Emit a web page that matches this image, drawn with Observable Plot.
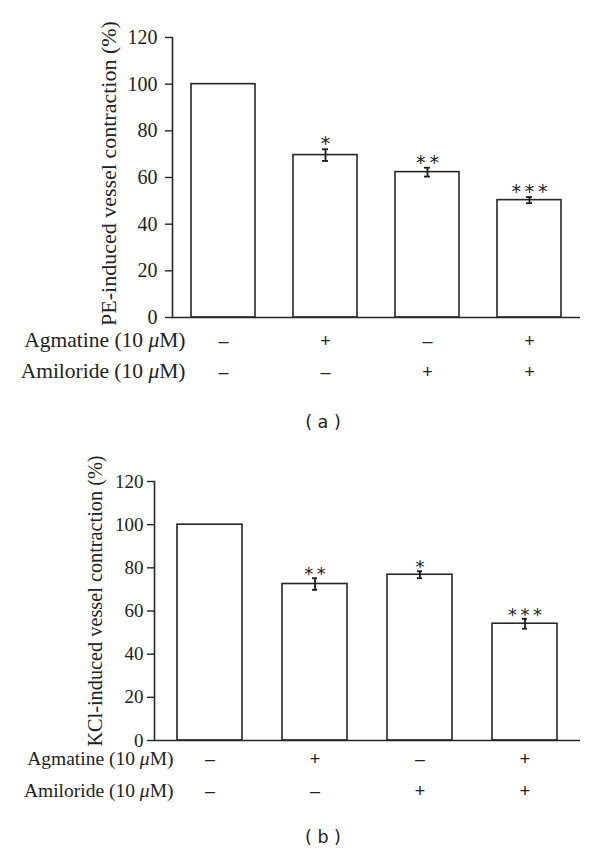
<!DOCTYPE html>
<html><head><meta charset="utf-8">
<script src="https://cdn.jsdelivr.net/npm/d3@7"></script>
<script src="https://cdn.jsdelivr.net/npm/@observablehq/plot@0.6"></script>
<style>
body{margin:0;background:#fff}
#wrap{position:relative;width:600px;height:853px;background:#fff;overflow:hidden}
.panel{position:absolute;left:0}
.cap{position:absolute;left:290px;width:66px;text-align:center;font-family:"DejaVu Sans";font-size:17.5px;line-height:20px;color:#222;white-space:pre}
</style></head><body><div id="wrap"></div>
<script>
// ---- data ----
const groups = ["Control", "Agmatine", "Amiloride", "Agmatine + Amiloride"];
const agmatineSigns = ["–", "+", "–", "+"];
const amilorideSigns = ["–", "–", "+", "+"];
const rowLabels = ["Agmatine (10 μM)", "Amiloride (10 μM)"];
const yTicks = [0, 20, 40, 60, 80, 100, 120];

const peMean = [100, 69.6, 62.3, 50.3];
const peSem = [0, 2.5, 1.9, 1.3];
const peStars = ["", "*", "**", "***"];

const kclMean = [100, 72.5, 76.8, 54.1];
const kclSem = [0, 2.7, 1.6, 2.3];
const kclStars = ["", "**", "*", "***"];

function makePanel(cfg) {
  const data = groups.map((g, i) => ({
    g, v: cfg.mean[i], e: cfg.sem[i], s: cfg.stars[i],
    agm: agmatineSigns[i], ami: amilorideSigns[i]
  }));
  const err = data.filter(d => d.e > 0);
  const n = groups.length;
  const step = (600 - cfg.ml - cfg.mr) / (n - cfg.pi + 2 * cfg.po);
  const bw = step * (1 - cfg.pi);
  const capInset = (bw - 6) / 2;
  const serif = "Liberation Serif";
  const ink = "#222";
  const svg = Plot.plot({
    width: 600, height: cfg.height,
    marginTop: cfg.mt, marginBottom: cfg.mb, marginLeft: cfg.ml, marginRight: cfg.mr,
    style: {background: "transparent", overflow: "visible", fontFamily: serif, color: ink},
    x: {domain: groups, paddingInner: cfg.pi, paddingOuter: cfg.po, axis: null},
    y: {domain: [0, 120]},
    marks: [
      Plot.barY(data, {x: "g", y: "v", fill: "white", stroke: "#262626", strokeWidth: 1.6}),
      Plot.ruleX(err, {x: "g", y1: d => d.v - d.e, y2: d => d.v + d.e, stroke: "#1a1a1a", strokeWidth: 1.8}),
      Plot.tickY(err, {x: "g", y: d => d.v + d.e, insetLeft: capInset, insetRight: capInset, stroke: "#1a1a1a", strokeWidth: 1.8}),
      Plot.tickY(err, {x: "g", y: d => d.v - d.e, insetLeft: capInset, insetRight: capInset, stroke: "#1a1a1a", strokeWidth: 1.8}),
      Plot.text(data.filter(d => d.s), {x: "g", y: d => d.v + d.e, text: d => d.s.split("").join("\u2009"),
        dy: cfg.starDy, fontFamily: "DejaVu Sans", fontSize: cfg.starSize, fill: ink}),
      Plot.ruleY([0], {stroke: "#262626", strokeWidth: 1.6}),
      Plot.frame({anchor: "left", stroke: "#262626", strokeWidth: 1.6}),
      Plot.axisY({ticks: yTicks, tickSize: 7, tickPadding: cfg.tickPad, label: null,
        fontSize: cfg.fs, fontFamily: serif, stroke: "#262626", strokeWidth: 1.4, fill: ink}),
      Plot.text([cfg.yLabel], {text: d => d, frameAnchor: "left", textAnchor: "middle", rotate: -90,
        dx: cfg.ylDx, dy: cfg.ylDy, fontSize: cfg.ylSize, fontFamily: serif, fill: ink}),
      Plot.text(data, {x: "g", text: "agm", frameAnchor: "bottom", dy: cfg.rowDy[0],
        fontFamily: "Liberation Sans", fontSize: cfg.signSize, fill: ink}),
      Plot.text(data, {x: "g", text: "ami", frameAnchor: "bottom", dy: cfg.rowDy[1],
        fontFamily: "Liberation Sans", fontSize: cfg.signSize, fill: ink}),
      Plot.text([rowLabels[0]], {text: d => d, frameAnchor: "bottom-left", textAnchor: "end",
        dx: cfg.labelDx, dy: cfg.rowDy[0], fontSize: cfg.rowSize, fontFamily: serif, fill: ink}),
      Plot.text([rowLabels[1]], {text: d => d, frameAnchor: "bottom-left", textAnchor: "end",
        dx: cfg.labelDx, dy: cfg.rowDy[1], fontSize: cfg.rowSize, fontFamily: serif, fill: ink})
    ]
  });
  // italicise the μ in the row labels
  svg.querySelectorAll("text").forEach(t => {
    if (t.children.length === 0 && t.textContent.includes("μ")) {
      const parts = t.textContent.split("μ");
      t.textContent = "";
      parts.forEach((p, k) => {
        if (k > 0) {
          const ts = document.createElementNS("http://www.w3.org/2000/svg", "tspan");
          ts.setAttribute("font-style", "italic");
          ts.textContent = "μ";
          t.appendChild(ts);
        }
        t.appendChild(document.createTextNode(p));
      });
    }
  });
  svg.classList.add("panel");
  svg.style.top = cfg.top + "px";
  return svg;
}

const wrap = document.getElementById("wrap");
wrap.appendChild(makePanel({
  top: 0, height: 400, mt: 37, mb: 83, ml: 172, mr: 20, pi: 0.373, po: 0.186,
  mean: peMean, sem: peSem, stars: peStars,
  yLabel: "PE-induced vessel contraction (%)",
  fs: 20, ylSize: 22, rowSize: 21.5, tickPad: 8, ylDx: -64, ylDy: -4, rowDy: [29, 60], labelDx: 13,
  signSize: 18, starSize: 19, starDy: -5
}));
wrap.appendChild(makePanel({
  top: 430, height: 400, mt: 51, mb: 90, ml: 154, mr: 20, pi: 0.377, po: 0.198,
  mean: kclMean, sem: kclSem, stars: kclStars,
  yLabel: "KCl-induced vessel contraction (%)",
  fs: 19, ylSize: 20.3, rowSize: 19.5, tickPad: 4, ylDx: -59, ylDy: -10, rowDy: [24, 56], labelDx: 19,
  signSize: 18, starSize: 18, starDy: -4
}));
const capA = document.createElement("div");
capA.className = "cap"; capA.style.top = "412px"; capA.textContent = "( a )";
wrap.appendChild(capA);
const capB = document.createElement("div");
capB.className = "cap"; capB.style.top = "827px"; capB.textContent = "( b )";
wrap.appendChild(capB);
</script></body></html>
